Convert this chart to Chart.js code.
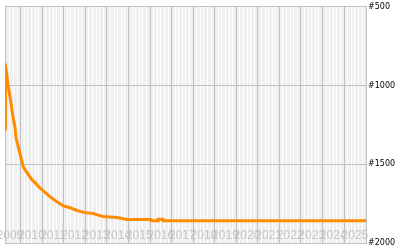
<!DOCTYPE html>
<html>
<head>
<meta charset="utf-8">
<script src="https://cdn.jsdelivr.net/npm/chart.js@4"></script>
<style>
  body { margin: 0; background: #fff; }
</style>
</head>
<body>
<canvas id="rankChart" width="400" height="250"></canvas>
<script>
// rank history (lower number = better rank)
const dates = ['2009-04-09', '2009-04-10', '2009-04-15', '2009-04-25', '2009-05-12', '2009-05-30',
  '2009-06-24', '2009-07-20', '2009-08-23', '2009-09-26', '2009-10-13', '2009-12-02',
  '2010-01-14', '2010-02-17', '2010-05-04', '2010-07-02', '2010-09-08', '2010-11-23',
  '2011-02-08', '2011-05-12', '2011-09-07', '2011-12-18', '2012-04-15', '2012-08-28',
  '2012-12-25', '2013-05-10', '2013-10-27', '2014-06-20', '2014-12-07', '2016-01-16',
  '2016-01-18', '2016-05-15', '2016-05-17', '2016-08-07', '2016-08-09', '2026-01-08']
const ranks = [1275, 1120, 860, 875, 937, 1000,
  1050, 1112, 1200, 1262, 1331, 1406,
  1469, 1519, 1562, 1594, 1619, 1650,
  1675, 1706, 1737, 1762, 1775, 1794,
  1806, 1812, 1831, 1837, 1850, 1850,
  1858, 1858, 1848, 1848, 1858, 1858]
const years = [2009, 2010, 2011, 2012, 2013, 2014, 2015, 2016, 2017,
  2018, 2019, 2020, 2021, 2022, 2023, 2024, 2025]
const rankTicks = [500, 1000, 1500, 2000]

// months since Jan 2009
function toMonths(d) {
  const p = d.split('-').map(Number)
  return (p[0] - 2009) * 12 + (p[1] - 1) + (p[2] - 1) / 31
}

const points = dates.map((d, i) => ({ x: toMonths(d), y: ranks[i] }))

const plotBg = {
  id: 'plotBg',
  beforeDraw(chart) {
    const a = chart.chartArea
    chart.ctx.save()
    chart.ctx.fillStyle = '#efefef'
    chart.ctx.fillRect(a.left, a.top, a.right - a.left, a.bottom - a.top)
    chart.ctx.restore()
  }
}

new Chart(document.getElementById('rankChart'), {
  type: 'line',
  data: {
    datasets: [{
      data: points,
      borderColor: '#ff8c00',
      borderWidth: 3,
      pointRadius: 0,
      tension: 0
    }]
  },
  options: {
    responsive: false,
    animation: false,
    layout: { padding: { left: 5, top: 5, bottom: 5, right: 0 } },
    plugins: { legend: { display: false }, tooltip: { enabled: false } },
    scales: {
      x: {
        type: 'linear',
        min: toMonths(dates[0]),
        max: toMonths(dates[dates.length - 1]),
        border: { color: '#c0c0c0' },
        grid: {
          drawTicks: false,
          color: ctx => {
            const v = ctx.tick.value
            if (!Number.isInteger(v) || v % 12 === 0) return '#c0c0c0'
            if (v % 2 === 0) return '#ffffff'
            return 'rgba(0,0,0,0)'
          }
        },
        ticks: {
          stepSize: 1,
          autoSkip: false,
          maxRotation: 0,
          minRotation: 0,
          mirror: true,
          padding: 0,
          color: '#c4c4c4',
          font: { family: 'Liberation Sans', size: 12 },
          callback: v => {
            if (!Number.isInteger(v) || v % 12 !== 6) return ''
            const y = 2009 + (v - 6) / 12
            return years.includes(y) ? String(y) : ''
          }
        },
        afterFit: s => { s.height = 0 }
      },
      y: {
        position: 'right',
        reverse: true,
        min: rankTicks[0],
        max: rankTicks[rankTicks.length - 1],
        border: { color: '#c0c0c0' },
        grid: { drawTicks: false, color: '#c0c0c0' },
        afterBuildTicks: s => { s.ticks = rankTicks.map(v => ({ value: v })) },
        ticks: {
          padding: 2,
          color: '#000',
          font: { family: 'DejaVu Sans', size: 8 },
          callback: v => '#' + v
        },
        afterFit: s => { s.width = 34 }
      }
    }
  },
  plugins: [plotBg]
})
</script>
</body>
</html>
